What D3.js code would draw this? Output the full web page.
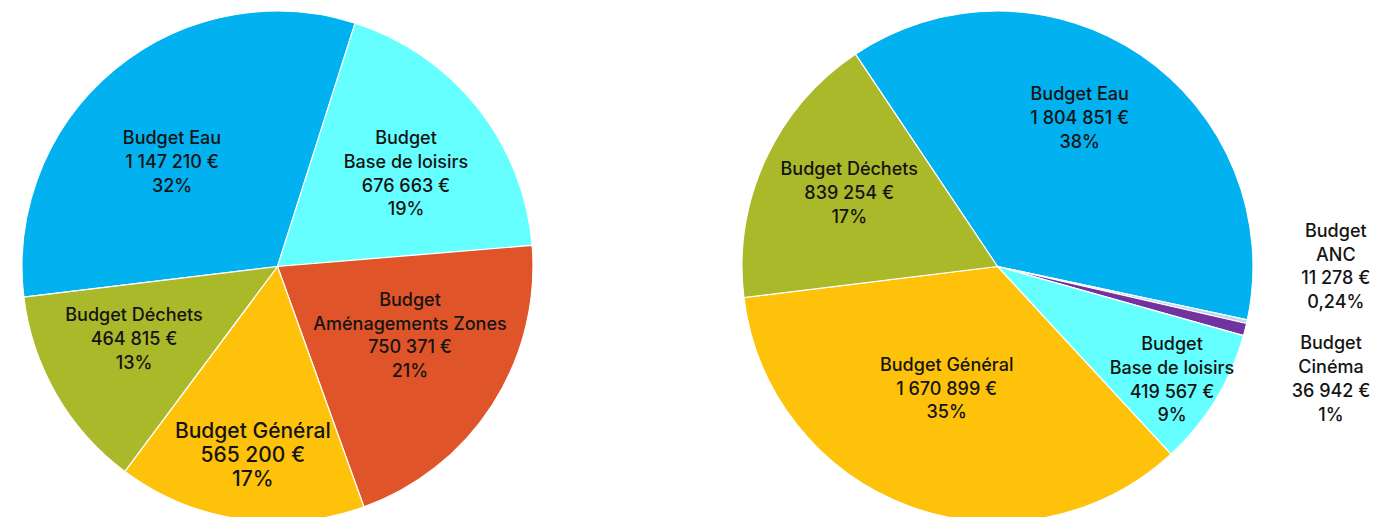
<!DOCTYPE html>
<html>
<head>
<meta charset="utf-8">
<script src="https://cdn.jsdelivr.net/npm/d3@7"></script>
<style>
  body { margin: 0; background: #fff; }
  text { font-family: Inter, "Noto Sans", sans-serif; font-weight: 500; fill: #141414; }
</style>
</head>
<body>
<div id="chart"></div>
<script>
// left pie
const leftNames = ["Budget Eau", "Budget Base de loisirs", "Budget Aménagements Zones", "Budget Général", "Budget Déchets"];
const leftValues = [1147210, 676663, 750371, 565200, 464815];
const leftPct = ["32%", "19%", "21%", "17%", "13%"];
const leftLines = [["Budget Eau"], ["Budget", "Base de loisirs"], ["Budget", "Aménagements Zones"], ["Budget Général"], ["Budget Déchets"]];

// right pie
const rightNames = ["Budget Eau", "Budget ANC", "Budget Cinéma", "Budget Base de loisirs", "Budget Général", "Budget Déchets"];
const rightValues = [1804851, 11278, 36942, 419567, 1670899, 839254];
const rightPct = ["38%", "0,24%", "1%", "9%", "35%", "17%"];
const rightLines = [["Budget Eau"], ["Budget", "ANC"], ["Budget", "Cinéma"], ["Budget", "Base de loisirs"], ["Budget Général"], ["Budget Déchets"]];

const colors = {
  "Budget Eau": "#02b1f0",
  "Budget Base de loisirs": "#66ffff",
  "Budget Aménagements Zones": "#e0542a",
  "Budget Général": "#fec20a",
  "Budget Déchets": "#a9b92a",
  "Budget ANC": "#bdd5e8",
  "Budget Cinéma": "#7232a0"
};

const width = 1373, height = 517;
const radius = 255.5;
const lineH = 23.8;

const fr = d3.formatLocale({ decimal: ",", thousands: "\u00a0", grouping: [3], currency: ["", "\u00a0€"] });
const fmt = fr.format("$,.0f");

const svg = d3.select("#chart").append("svg")
    .attr("width", width)
    .attr("height", height);

// label placement relative to pie centre: [dx of block centre, dy of first baseline]
const leftLabelAt = [[-105.5, -122.5], [128.5, -122.5], [132.5, 39.2], [-24.7, 171.5], [-143.5, 54.5]];
const rightLabelAt = [[82.2, -166.5], [338.3, -29.8], [333.5, 82.8], [174.5, 83.5], [-50.8, 104.2], [-148.3, -91.5]];

function drawPie(cx, cy, names, values, pct, lines, labelAt, startDeg, bigIndex) {
    const g = svg.append("g").attr("transform", `translate(${cx},${cy})`);
    const start = startDeg * Math.PI / 180;
    const pie = d3.pie().sort(null).startAngle(start).endAngle(start + 2 * Math.PI);
    const arc = d3.arc().innerRadius(0).outerRadius(radius);
    const arcs = pie(values).map((a, i) => Object.assign(a, { name: names[i] }));

    g.selectAll("path")
        .data(arcs)
        .enter().append("path")
        .attr("d", arc)
        .attr("fill", d => colors[d.name])
        .attr("stroke", "#fff")
        .attr("stroke-width", 1.2)
        .attr("stroke-linejoin", "round");

    arcs.forEach((a, i) => {
        const big = i === bigIndex;
        const txt = lines[i].concat([fmt(values[i]), pct[i]]);
        const t = g.append("text")
            .attr("text-anchor", "middle")
            .style("font-size", big ? "21px" : "18px");
        txt.forEach((s, k) => {
            t.append("tspan")
                .attr("x", labelAt[i][0])
                .attr("y", labelAt[i][1] + k * (big ? 24 : lineH))
                .text(s);
        });
    });
}

drawPie(277.5, 266.5, leftNames, leftValues, leftPct, leftLines, leftLabelAt, -96.9, 3);
drawPie(997.5, 266.5, rightNames, rightValues, rightPct, rightLines, rightLabelAt, -33.8, -1);
</script>
</body>
</html>
